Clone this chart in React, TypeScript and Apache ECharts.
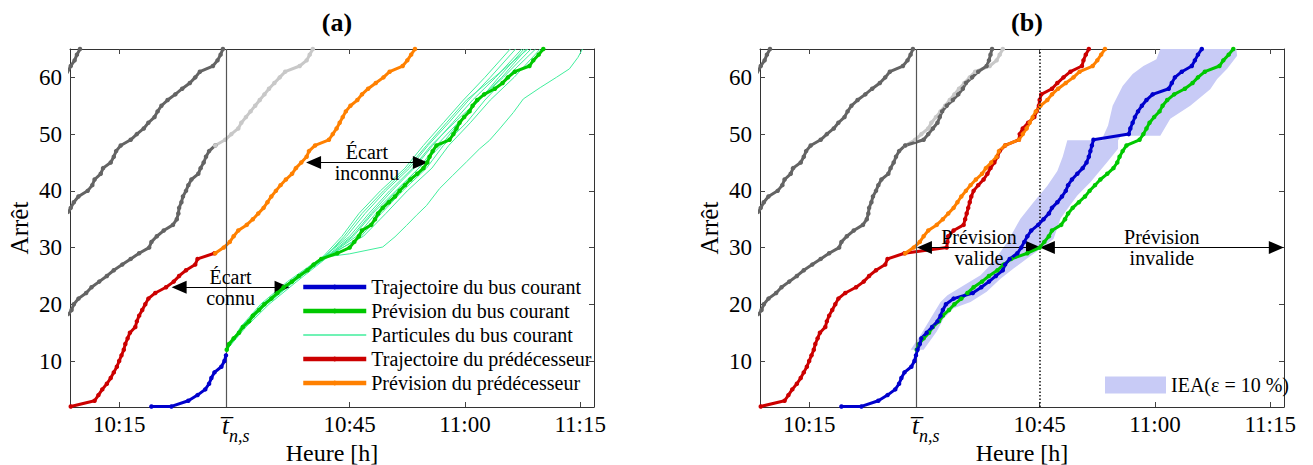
import React, { useEffect, useRef } from 'react';
import * as echarts from 'echarts';

const FONT = 'Liberation Serif';

// Time axis: minutes after 10:00 ; stop axis: stop number
const X_MIN = 8.6;
const X_MAX = 76.8;
const Y_MIN = 1.9;
const Y_MAX = 65;
const T_NS = 29; // current instant t_{n,s}
const T_VALID = 45; // 10:45

const xTickValues = [15, 29, 45, 60, 75];
const xTickLabels = ['10:15', 'tns', '10:45', '11:00', '11:15'];
const yTickValues = [10, 20, 30, 40, 50, 60];

// ---- trajectories: first stop + passing time (min after 10:00) at each successive stop
const greyAStart = 60;
const greyATimes = [7.9, 8.3, 8.7, 9.2, 9.5, 9.9];

const greyBStart = 36;
const greyBTimes = [8.3, 8.7, 9.1, 9.7, 10.9, 11.5, 11.8, 12.6, 12.9, 13.9, 14.3, 14.6, 15.2, 16.5, 17.3, 18.2, 18.8, 19.6, 20.0, 20.5, 21.3, 22.3, 23.2, 24.2, 24.9, 25.5, 27.2, 27.8, 28.2, 28.5];

const greyCStart = 18;
const greyCTimes = [8.3, 8.8, 9.1, 9.7, 10.7, 11.4, 12.4, 13.4, 14.3, 15.4, 16.5, 17.6, 18.9, 19.2, 19.9, 20.8, 22.0, 22.5, 22.7, 22.8, 23.1, 23.3, 23.7, 24.0, 24.4, 25.3, 25.6, 26.0, 26.3, 26.7, 27.5];
const greyCFutureStart = 49;
const greyCFutureTimes = [29.9, 30.5, 31.1, 31.7, 32.0, 32.3, 32.9, 33.7, 34.4, 35.0, 35.4, 36.2, 37.0, 38.1, 38.4, 38.6, 38.8];

const greyCPredStart = 48;
const greyCPredTimes = [27.5, 28.8, 29.6, 30.5, 30.9, 31.5, 32.1, 32.7, 33.3, 33.9, 34.5, 35.2, 35.9, 36.6, 38.5, 39.4, 39.8, 40.2];

const redStart = 2;
const redTimes = [8.7, 11.8, 12.3, 12.8, 13.4, 13.9, 14.3, 14.7, 15.0, 15.3, 15.6, 15.8, 16.1, 16.4, 17.1, 17.3, 17.6, 18.0, 18.4, 18.8, 19.7, 21.1, 22.1, 22.8, 23.7, 24.9, 25.2, 27.4];
const redFutureStart = 30;
const redFutureTimes = [32.9, 33.0, 33.1, 33.8, 35.1, 35.3, 35.5, 35.7, 35.9, 36.1, 36.4, 37.0, 37.7, 38.2, 38.6, 39.1, 39.5, 39.8, 40.5, 42.3, 42.4, 42.8, 43.5, 44.3, 44.6, 44.9, 45.0, 45.2, 46.6, 47.3, 48.1, 49.0, 50.5, 50.7, 51.0, 51.4];

const orangeStart = 29;
const orangeTimes = [27.5, 28.6, 29.4, 29.9, 30.5, 31.6, 32.4, 33.1, 33.8, 34.3, 34.8, 35.4, 36.0, 36.7, 37.5, 38.0, 38.7, 39.4, 39.7, 40.5, 42.3, 42.8, 43.3, 43.7, 44.1, 44.5, 45.1, 46.0, 46.6, 47.4, 48.4, 49.4, 50.2, 51.9, 52.5, 53.0, 53.5];

const blueDeparture = [19.2, 2];
const blueStart = 2;
const blueTimes = [21.8, 24.0, 25.2, 26.2, 26.7, 27.0, 27.4, 28.3, 28.7, 28.9];
const blueFutureStart = 12;
const blueFutureTimes = [29.1, 29.4, 29.6, 30.3, 31.0, 31.7, 32.1, 32.4, 32.8, 33.8, 36.3, 37.4, 38.4, 39.3, 40.2, 40.5, 41.1, 42.1, 42.6, 43.0, 43.4, 43.9, 44.8, 45.5, 46.2, 46.6, 47.3, 47.9, 48.4, 48.7, 49.2, 49.9, 50.6, 51.1, 51.4, 51.6, 51.8, 52.0, 56.6, 56.8, 57.1, 57.4, 57.8, 58.3, 58.9, 59.7, 61.8, 62.2, 62.6, 63.5, 64.8, 65.2, 65.6, 66.1];

const greenStart = 12;
const greenTimes = [29.0, 29.3, 29.9, 30.6, 31.1, 31.9, 32.4, 33.2, 33.9, 34.8, 35.6, 36.4, 37.5, 38.4, 39.5, 40.3, 41.3, 43.4, 45.0, 45.6, 46.2, 46.6, 47.8, 48.3, 48.7, 49.3, 50.1, 50.9, 51.5, 52.2, 52.9, 53.8, 54.6, 55.1, 55.4, 55.8, 56.3, 58.0, 58.5, 58.9, 59.3, 59.9, 60.6, 61.0, 61.6, 62.5, 63.9, 64.9, 65.6, 66.5, 68.4, 68.9, 69.6, 70.2];

// ---- particles (thin lines)
const particleStops = [12, 16, 20, 24, 28.5, 32, 36, 40, 44, 48, 52, 56, 60, 65];
const particleTimes = [
  [29.0, 30.8, 33.4, 36.9, 41.6, 44.0, 46.2, 49.0, 52.2, 54.6, 57.2, 59.8, 62.6, 65.9],
  [29.0, 31.0, 33.7, 37.3, 41.8, 44.6, 47.0, 49.7, 52.8, 55.2, 57.9, 60.5, 63.3, 66.6],
  [29.0, 31.2, 34.0, 37.6, 42.0, 45.3, 47.8, 50.5, 53.4, 55.8, 58.4, 61.0, 64.0, 67.4],
  [29.0, 31.3, 34.2, 37.8, 42.1, 45.9, 48.4, 51.1, 54.0, 56.3, 59.1, 61.7, 64.8, 68.0],
  [29.0, 31.1, 33.8, 37.2, 41.7, 45.0, 47.5, 50.2, 53.2, 55.6, 58.6, 61.8, 65.0, 68.6],
  [29.0, 31.5, 34.5, 38.1, 42.3, 46.5, 49.1, 51.9, 55.0, 57.2, 60.2, 62.6, 65.4, 69.2],
  [29.0, 30.9, 33.6, 37.4, 42.0, 46.8, 49.7, 52.5, 55.7, 57.9, 60.7, 63.3, 66.4, 69.8],
  [29.0, 31.2, 34.1, 37.7, 42.2, 45.5, 48.0, 51.0, 54.0, 56.9, 59.2, 61.9, 64.4, 67.7],
  [29.0, 31.0, 33.9, 37.5, 41.9, 44.3, 46.6, 49.4, 52.5, 55.0, 57.6, 60.2, 63.8, 68.2],
];
const outlierStops = [12, 16, 20, 24, 27, 28.3, 28.9, 30.1, 31.9, 33.9, 35.7, 37.4, 40.4, 42.7, 45.1, 47.4, 48.9, 50.9, 53.8, 56.2, 58.2, 60, 61.5, 63.5, 65];
const outlierTimes = [29.0, 31.2, 34.0, 37.6, 40.3, 41.5, 45.0, 49.3, 50.9, 52.4, 53.7, 55.0, 56.7, 58.4, 60.2, 61.9, 63.2, 64.5, 66.3, 67.6, 69.8, 71.9, 73.6, 74.7, 75.3];

// ---- IEA (eps = 10 %) band : [time, stop] boundaries
const ieaLeft = [[28.2, 12.0], [29.5, 14.6], [30.8, 17.5], [32.1, 20.4], [33.0, 21.6], [35.2, 23.4], [37.3, 25.1], [39.0, 27.5], [40.8, 31.0], [42.5, 35.1], [44.2, 38.0], [46.0, 40.9], [47.3, 43.5], [48.0, 46.0], [48.6, 48.9], [53.3, 48.9], [53.3, 49.7], [53.9, 51.5], [54.5, 55.0], [55.8, 58.5], [57.1, 60.6], [58.5, 62.0], [60.2, 63.2], [60.7, 65.0]];
const ieaRight = [[29.9, 12.0], [31.6, 15.2], [32.5, 17.5], [33.8, 19.3], [36.0, 20.4], [38.1, 22.2], [39.9, 24.5], [41.6, 26.3], [43.4, 28.1], [45.1, 29.8], [46.8, 31.5], [47.7, 35.1], [48.6, 36.8], [49.9, 39.2], [51.6, 41.5], [53.8, 45.1], [55.2, 47.4], [55.2, 48.9], [55.6, 49.7], [60.7, 49.7], [62.0, 52.7], [64.6, 55.0], [67.2, 57.9], [68.1, 59.7], [69.4, 61.5], [70.7, 63.8], [70.6, 65.0]];

// ---- annotations (double arrows): [tStart, tEnd, stop]
const ecartConnu = [22.8, 36.2, 23];
const ecartInconnu = [40.3, 54.2, 45];
const previsionValide = [30.0, 44.2, 30];
const previsionInvalide = [46.0, 75.8, 30];

const NAMES = {
  blue: 'Trajectoire du bus courant',
  green: 'Prévision du bus courant',
  part: 'Particules du bus courant',
  red: 'Trajectoire du prédécesseur',
  orange: 'Prévision du prédécesseur',
  iea: 'IEA(ε = 10 %)',
};

const C = {
  grey: '#646464',
  light: '#c8c8c8',
  red: '#cc0000',
  orange: '#ff8000',
  blue: '#0000cc',
  green: '#00c800',
  part: '#40ee9c',
  band: '#c8cbf6',
};

function traj(start: number, times: number[]) {
  return times.map((t, i) => [t, start + i]);
}
function pairs(ts: number[], ss: number[]) {
  return ts.map((t, i) => [t, ss[i]]);
}

function thick(name: string, color: string, data: number[][], g: number, z = 3) {
  return {
    type: 'line', name, data, xAxisIndex: g * 2, yAxisIndex: g * 2,
    symbol: 'circle', symbolSize: 4.5, showSymbol: true,
    lineStyle: { width: 3, color }, itemStyle: { color },
    silent: true, z, clip: true,
  };
}

function arrow(a: number[], text: string) {
  return [
    {
      coord: [a[0], a[2]],
      label: { show: true, formatter: text },
    },
    { coord: [a[1], a[2]] },
  ];
}

function markerSeries(g: number, arrows: any[], vlines: any[]) {
  return {
    type: 'line', data: [], xAxisIndex: g * 2, yAxisIndex: g * 2, z: 10, silent: true,
    markLine: {
      silent: true, animation: false,
      symbol: ['triangle', 'triangle'], symbolSize: [13, 15],
      lineStyle: { color: '#000', width: 1, type: 'solid' },
      label: {
        show: true, position: 'middle', distance: -21,
        fontFamily: FONT, fontSize: 20, color: '#000', lineHeight: 21,
      },
      data: [
        ...vlines,
        ...arrows,
      ],
    },
  };
}

function vline(x: number, style: any) {
  return [
    { coord: [x, Y_MIN], symbol: 'none', lineStyle: style, label: { show: false } },
    { coord: [x, Y_MAX], symbol: 'none' },
  ];
}

function axes(g: number) {
  const x0 = {
    type: 'value', gridIndex: g, min: X_MIN, max: X_MAX, position: 'bottom',
    axisLine: { show: true, onZero: false, lineStyle: { color: '#333', width: 1 } },
    axisTick: { show: true, inside: true, length: 5, customValues: xTickValues, lineStyle: { color: '#444' } },
    axisLabel: {
      customValues: xTickValues, margin: 6, fontFamily: FONT, fontSize: 23, color: '#000',
      formatter: (v: number) => {
        const i = xTickValues.indexOf(v);
        const l = i >= 0 ? xTickLabels[i] : '';
        return l === 'tns' ? '{tt|t\u0305}{ns|n,s}' : l;
      },
      rich: {
        tt: { fontFamily: FONT, fontSize: 25, fontStyle: 'italic', color: '#000', padding: [0, 0, 12, 18] },
        ns: { fontFamily: FONT, fontSize: 18, fontStyle: 'italic', color: '#000', padding: [8, 0, 0, 0] },
      },
    },
    splitLine: { show: false },
    name: 'Heure [h]', nameLocation: 'middle', nameGap: 34, nameMoveOverlap: false,
    nameTextStyle: { fontFamily: FONT, fontSize: 24, color: '#000' },
  };
  const x1 = {
    type: 'value', gridIndex: g, min: X_MIN, max: X_MAX, position: 'top',
    axisLine: { show: true, onZero: false, lineStyle: { color: '#333', width: 1 } },
    axisTick: { show: true, inside: true, length: 5, customValues: xTickValues, lineStyle: { color: '#444' } },
    axisLabel: { show: false, customValues: xTickValues },
    splitLine: { show: false },
  };
  const y0 = {
    type: 'value', gridIndex: g, min: Y_MIN, max: Y_MAX, position: 'left',
    axisLine: { show: true, onZero: false, lineStyle: { color: '#333', width: 1 } },
    axisTick: { show: true, inside: true, length: 5, customValues: yTickValues, lineStyle: { color: '#444' } },
    axisLabel: { customValues: yTickValues, margin: 8, fontFamily: FONT, fontSize: 23, color: '#000' },
    splitLine: { show: false },
    name: 'Arrêt', nameLocation: 'middle', nameGap: 38, nameRotate: 90,
    nameTextStyle: { fontFamily: FONT, fontSize: 25, color: '#000' },
  };
  const y1 = {
    type: 'value', gridIndex: g, min: Y_MIN, max: Y_MAX, position: 'right',
    axisLine: { show: true, onZero: false, lineStyle: { color: '#333', width: 1 } },
    axisTick: { show: true, inside: true, length: 5, customValues: yTickValues, lineStyle: { color: '#444' } },
    axisLabel: { show: false, customValues: yTickValues },
    splitLine: { show: false },
  };
  return { xs: [x0, x1], ys: [y0, y1] };
}

export default function App() {
  const ref = useRef<HTMLDivElement>(null);
  useEffect(() => {
    if (!ref.current) return;
    const chart = echarts.init(ref.current, undefined, { renderer: 'svg' });
    const a0 = axes(0);
    const a1 = axes(1);

    const greyA = traj(greyAStart, greyATimes);
    const greyB = traj(greyBStart, greyBTimes);
    const greyC = traj(greyCStart, greyCTimes);
    const greyCFull = greyC.concat(traj(greyCFutureStart, greyCFutureTimes));
    const greyCPred = traj(greyCPredStart, greyCPredTimes);
    const red = traj(redStart, redTimes);
    const redFull = red.concat(traj(redFutureStart, redFutureTimes));
    const orange = traj(orangeStart, orangeTimes);
    const blue = [blueDeparture].concat(traj(blueStart, blueTimes));
    const blueFull = blue.concat(traj(blueFutureStart, blueFutureTimes));
    const green = traj(greenStart, greenTimes);

    const bandPoly = ieaLeft.concat(ieaRight.slice().reverse());

    const partStyle = {
      type: 'line', name: NAMES.part, xAxisIndex: 0, yAxisIndex: 0,
      symbol: 'none', showSymbol: false, lineStyle: { width: 1, color: C.part }, itemStyle: { color: C.part },
      silent: true, z: 4,
    };
    const particleSeries: any[] = particleTimes.map((ts) => ({ ...partStyle, data: pairs(ts, particleStops) }));
    particleSeries.push({ ...partStyle, data: pairs(outlierTimes, outlierStops) });

    const thickLegend = { lineStyle: { width: 4.5 } };

    const option: any = {
      animation: false,
      backgroundColor: '#ffffff',
      title: [
        { text: '(a)', left: 332, top: 4, textAlign: 'center', textStyle: { fontFamily: FONT, fontSize: 26, fontWeight: 'bold', color: '#000' } },
        { text: '(b)', left: 1022, top: 4, textAlign: 'center', textStyle: { fontFamily: FONT, fontSize: 26, fontWeight: 'bold', color: '#000' } },
      ],
      grid: [
        { left: 70, top: 49, width: 524, height: 358, containLabel: false, outerBoundsMode: 'none' },
        { left: 760, top: 49, width: 524, height: 358, containLabel: false, outerBoundsMode: 'none' },
      ],
      xAxis: [...a0.xs, ...a1.xs],
      yAxis: [...a0.ys, ...a1.ys],
      legend: [
        {
          data: [
            { name: NAMES.blue, ...thickLegend },
            { name: NAMES.green, ...thickLegend },
            { name: NAMES.part, icon: 'path://M0,0L100,0L100,2L0,2Z' },
            { name: NAMES.red, ...thickLegend },
            { name: NAMES.orange, ...thickLegend },
          ],
          orient: 'vertical', left: 301, top: 277, itemWidth: 63, itemHeight: 6, itemGap: 4,
          selectedMode: false, padding: 0,
          textStyle: { fontFamily: FONT, fontSize: 20, color: '#000', lineHeight: 20 },
        },
        {
          data: [{ name: NAMES.iea, icon: 'rect' }],
          left: 1105, top: 375, itemWidth: 61, itemHeight: 17, selectedMode: false, padding: 0,
          textStyle: { fontFamily: FONT, fontSize: 20, color: '#000' },
        },
      ],
      series: [
        // ---------- panel (a)
        thick('greyA', C.grey, greyA, 0),
        thick('greyB', C.grey, greyB, 0),
        thick('greyC', C.grey, greyC, 0),
        thick('greyCPred', C.light, greyCPred, 0),
        thick(NAMES.red, C.red, red, 0),
        thick(NAMES.orange, C.orange, orange, 0),
        ...particleSeries,
        thick(NAMES.blue, C.blue, blue, 0, 5),
        thick(NAMES.green, C.green, green, 0, 5),
        markerSeries(0, [arrow(ecartConnu, 'Écart\nconnu'), arrow(ecartInconnu, 'Écart\ninconnu')], [
          vline(T_NS, { color: '#555', width: 1.2, type: 'solid' }),
        ]),
        // ---------- panel (b)
        {
          type: 'custom', name: NAMES.iea, xAxisIndex: 2, yAxisIndex: 2, data: [bandPoly[0]],
          itemStyle: { color: C.band }, silent: true, z: 1,
          renderItem: (params: any, api: any) => {
            const pts = bandPoly.map((p) => api.coord(p));
            return { type: 'polygon', shape: { points: pts }, style: { fill: C.band } };
          },
        },
        thick('greyA b', C.grey, greyA, 1),
        thick('greyB b', C.grey, greyB, 1),
        thick('greyCPred b', C.light, greyCPred, 1),
        thick('greyC b', C.grey, greyCFull, 1),
        thick(NAMES.red, C.red, redFull, 1),
        thick(NAMES.orange, C.orange, orange, 1),
        thick(NAMES.green, C.green, green, 1, 5),
        thick(NAMES.blue, C.blue, blueFull, 1, 5),
        markerSeries(1, [arrow(previsionValide, 'Prévision\nvalide'), arrow(previsionInvalide, 'Prévision\ninvalide')], [
          vline(T_NS, { color: '#555', width: 1.2, type: 'solid' }),
          vline(T_VALID, { color: '#111', width: 1.5, type: [1.5, 2] }),
        ]),
      ],
    };
    chart.setOption(option);
    return () => chart.dispose();
  }, []);
  return <div ref={ref} style={{ position: 'absolute', left: 0, top: 0, width: 1313, height: 465 }} />;
}
